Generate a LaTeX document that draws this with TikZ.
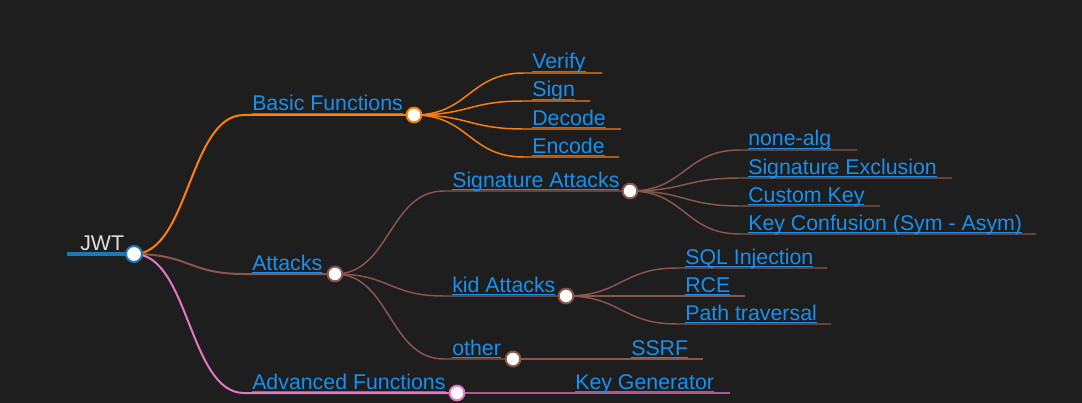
\documentclass[tikz,border=0pt]{standalone}
\usepackage{fontspec}
\setmainfont{Liberation Sans}
\usetikzlibrary{backgrounds}
\definecolor{canvas}{RGB}{30,30,30}
\definecolor{rootblue}{RGB}{31,119,180}
\definecolor{basic}{RGB}{255,127,14}
\definecolor{attack}{RGB}{140,86,75}
\definecolor{advanced}{RGB}{227,119,194}
\definecolor{advchild}{RGB}{176,92,140}
\definecolor{linkblue}{RGB}{25,144,240}
\definecolor{roottext}{RGB}{222,222,222}
\newcommand{\ulink}[1]{\setbox0\hbox{#1}\rlap{\rule[-2.2pt]{\wd0}{0.9pt}}\box0}

\begin{document}
\begin{tikzpicture}[
    x=0.75pt, y=-0.75pt,
    topic/.style={anchor=base west, inner sep=0pt, text=linkblue, font=\fontsize{16}{19}\selectfont},
    dot/.style={circle, draw=#1, fill=white, line width=1.5pt, minimum size=11pt, inner sep=0pt},
    branch/.style={draw=#1, line width=1.1pt},
    trunk/.style={draw=#1, line width=1.5pt},
]

% === ROOT ===
\useasboundingbox (0,0) rectangle (1082,403);
\coordinate (rootl) at (67,254);
\node[dot=rootblue, minimum size=12pt] (root) at (134,254) {};
\node[anchor=base west, inner sep=0pt, text=roottext, font=\fontsize{16}{19}\selectfont] (jwt) at (80,250) {JWT};

% === BASIC FUNCTIONS ===
\coordinate (bf-s) at (244,115);
\node[dot=basic] (bf) at (414,115) {};
\node[topic] (bf-t) at (252,111) {\ulink{Basic Functions}};

\coordinate (verify-s) at (524,73);
\coordinate (verify-e) at (602,73);
\node[topic] (verify) at (532,69) {\ulink{Verify}};
\coordinate (sign-s) at (524,101);
\coordinate (sign-e) at (590,101);
\node[topic] (sign) at (532,97) {\ulink{Sign}};
\coordinate (decode-s) at (524,129);
\coordinate (decode-e) at (621,129);
\node[topic] (decode) at (532,125) {\ulink{Decode}};
\coordinate (encode-s) at (524,157);
\coordinate (encode-e) at (619,157);
\node[topic] (encode) at (532,153) {\ulink{Encode}};

% === ATTACKS ===
\coordinate (at-s) at (244,274);
\node[dot=attack] (at) at (335,274) {};
\node[topic] (at-t) at (252,270) {\ulink{Attacks}};

\coordinate (sa-s) at (444,191);
\node[dot=attack] (sa) at (630,191) {};
\node[topic] (sa-t) at (452,187) {\ulink{Signature Attacks}};
\coordinate (ka-s) at (444,296);
\node[dot=attack] (ka) at (566,296) {};
\node[topic] (ka-t) at (452,292) {\ulink{kid Attacks}};
\coordinate (ot-s) at (444,359);
\node[dot=attack] (ot) at (513,359) {};
\node[topic] (ot-t) at (452,355) {\ulink{other}};

% signature attacks
\coordinate (none-s) at (740,150);
\coordinate (none-e) at (857,150);
\node[topic] (none) at (748,146) {\ulink{none-alg}};
\coordinate (excl-s) at (740,178);
\coordinate (excl-e) at (952,178);
\node[topic] (excl) at (748,174) {\ulink{Signature Exclusion}};
\coordinate (ckey-s) at (740,206);
\coordinate (ckey-e) at (880,206);
\node[topic] (ckey) at (748,202) {\ulink{Custom Key}};
\coordinate (conf-s) at (740,234);
\coordinate (conf-e) at (1036,234);
\node[topic] (conf) at (748,230) {\ulink{Key Confusion (Sym - Asym)}};

% kid attacks
\coordinate (sql-s) at (677,268);
\coordinate (sql-e) at (827,268);
\node[topic] (sql) at (685,264) {\ulink{SQL Injection}};
\coordinate (rce-s) at (677,296);
\coordinate (rce-e) at (745,296);
\node[topic] (rce) at (685,292) {\ulink{RCE}};
\coordinate (path-s) at (677,324);
\coordinate (path-e) at (831,324);
\node[topic] (path) at (685,320) {\ulink{Path traversal}};

% other
\coordinate (ssrf-e) at (703,359);
\node[topic] (ssrf) at (631,355) {\ulink{SSRF}};

% === ADVANCED FUNCTIONS ===
\coordinate (af-s) at (244,393);
\node[dot=advanced] (af) at (457,393) {};
\node[topic] (af-t) at (252,389) {\ulink{Advanced Functions}};
\coordinate (kg-e) at (730,393);
\node[topic] (kg) at (575,389) {\ulink{Key Generator}};

% === BRANCHES ===
\begin{scope}[on background layer]
\fill[canvas] (0,0) rectangle (1082,403);
\draw[rootblue, line width=3pt] (rootl) -- (root.center);

\draw[trunk=basic] (root.center) .. controls +(55,0) and +(-55,0) .. (bf-s) -- (bf.center);
\draw[trunk=attack] (root.center) .. controls +(55,0) and +(-55,0) .. (at-s) -- (at.center);
\draw[trunk=advanced] (root.center) .. controls +(55,0) and +(-55,0) .. (af-s) -- (af.center);

\draw[branch=basic] (bf.center) .. controls +(55,0) and +(-55,0) .. (verify-s) -- (verify-e);
\draw[branch=basic] (bf.center) .. controls +(55,0) and +(-55,0) .. (sign-s) -- (sign-e);
\draw[branch=basic] (bf.center) .. controls +(55,0) and +(-55,0) .. (decode-s) -- (decode-e);
\draw[branch=basic] (bf.center) .. controls +(55,0) and +(-55,0) .. (encode-s) -- (encode-e);

\draw[branch=attack] (at.center) .. controls +(55,0) and +(-55,0) .. (sa-s) -- (sa.center);
\draw[branch=attack] (at.center) .. controls +(55,0) and +(-55,0) .. (ka-s) -- (ka.center);
\draw[branch=attack] (at.center) .. controls +(55,0) and +(-55,0) .. (ot-s) -- (ot.center);

\draw[branch=attack] (sa.center) .. controls +(55,0) and +(-55,0) .. (none-s) -- (none-e);
\draw[branch=attack] (sa.center) .. controls +(55,0) and +(-55,0) .. (excl-s) -- (excl-e);
\draw[branch=attack] (sa.center) .. controls +(55,0) and +(-55,0) .. (ckey-s) -- (ckey-e);
\draw[branch=attack] (sa.center) .. controls +(55,0) and +(-55,0) .. (conf-s) -- (conf-e);

\draw[branch=attack] (ka.center) .. controls +(55,0) and +(-55,0) .. (sql-s) -- (sql-e);
\draw[branch=attack] (ka.center) -- (rce-e);
\draw[branch=attack] (ka.center) .. controls +(55,0) and +(-55,0) .. (path-s) -- (path-e);

\draw[branch=attack] (ot.center) -- (ssrf-e);
\draw[branch=advchild] (af.center) -- (kg-e);
\end{scope}

\end{tikzpicture}
\end{document}
